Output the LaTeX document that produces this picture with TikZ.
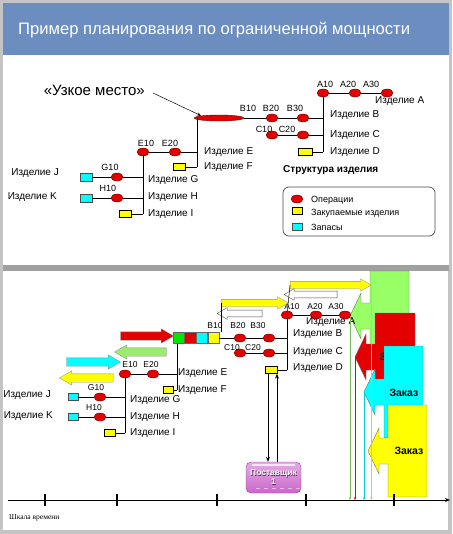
\documentclass[tikz,border=0pt]{standalone}
\usepackage{fontspec}
\setmainfont{Liberation Sans}
\newfontfamily\scalefont{Liberation Serif}
\usetikzlibrary{shapes.geometric,shapes.arrows,arrows.meta,positioning}

\definecolor{titleblue}{RGB}{108,141,191}
\definecolor{framegrey}{RGB}{196,196,196}
\definecolor{bandgrey}{RGB}{160,160,160}
\definecolor{opred}{RGB}{226,0,0}
\definecolor{opedge}{RGB}{110,0,0}
\definecolor{buyyellow}{RGB}{255,255,0}
\definecolor{stockcyan}{RGB}{0,255,255}
\definecolor{stripgreen}{RGB}{0,230,0}
\definecolor{ordergreen}{RGB}{153,255,102}
\definecolor{lightgreen}{RGB}{155,235,110}
\definecolor{supplier}{RGB}{204,102,204}

\tikzset{
	op/.style={ellipse, draw=opedge, fill=opred, minimum width=12pt, minimum height=8pt, inner sep=0pt},
	neck/.style={ellipse, draw=opedge, fill=opred, minimum width=50pt, minimum height=6pt, inner sep=0pt},
	buy/.style={draw=black, fill=buyyellow, minimum width=12pt, minimum height=7pt, inner sep=0pt},
	stock/.style={draw=black!70, fill=stockcyan, minimum width=12pt, minimum height=8pt, inner sep=0pt},
	sq/.style={draw=black!60, minimum width=11.25pt, minimum height=11pt, inner sep=0pt},
	oplbl/.style={font=\fontsize{9}{10}\selectfont, inner sep=0pt},
	smlbl/.style={font=\fontsize{8.5}{9}\selectfont, inner sep=0pt},
	partlbl/.style={font=\fontsize{10}{11}\selectfont, inner sep=0pt},
	leglbl/.style={font=\fontsize{9}{10}\selectfont, inner sep=0pt, anchor=west},
	link/.style={line width=0.9pt},
	blk/.style={single arrow, inner sep=0pt, inner ysep=4pt, single arrow head extend=3pt,
		single arrow tip angle=60, draw=black!45, line width=0.3pt},
	blkthin/.style={blk, inner ysep=3.5pt, single arrow head extend=2.5pt},
	blkwhite/.style={blk, inner ysep=3.2pt, single arrow head extend=2.5pt, fill=white, draw=black!70, line width=0.4pt},
	orderedge/.style={draw=black!55, line width=0.4pt},
	orderlbl/.style={font=\bfseries\fontsize{10.5}{11}\selectfont, inner sep=0pt},
	supplierbox/.style={rounded corners=5pt, draw=supplier!70!black, top color=supplier!55!white,
		bottom color=supplier, minimum width=55pt, minimum height=31pt, inner sep=0pt},
	tick/.style={line width=1.3pt},
	dropline/.style={line width=0.8pt, -{Stealth[length=3pt,width=2.5pt]}}
}

% left, right, top, bottom, fill, tip name
\newcommand{\orderbox}[6]{%
	\pgfmathsetmacro{\oc}{(#3+#4)/2}
	\filldraw[orderedge, fill=#5] (#2,#3) -- (#1,#3) -- (#1,\oc-13) -- (#1-9,\oc-13)
		-- (#1-9,\oc-23) -- (#1-20,\oc) coordinate (#6) -- (#1-9,\oc+23) -- (#1-9,\oc+13)
		-- (#1,\oc+13) -- (#1,#4) -- (#2,#4) -- cycle;
}

\begin{document}
\begin{tikzpicture}[x=1pt, y=-1pt]
	\useasboundingbox (0,0) rectangle (452,534);

	% Frame and panels
	\fill[framegrey] (0,0) rectangle (452,534);
	\fill[white] (3,55) rectangle (449,265);
	\fill[bandgrey] (3,265) rectangle (449,271);
	\fill[white] (3,271) rectangle (448,530);
	\fill[titleblue] (3,3) rectangle (449,55);
	\node[font=\fontsize{16.6}{20}\selectfont, text=white, anchor=west, inner sep=0pt] (title)
		at (18,30) {Пример планирования по ограниченной мощности};

	% ---------- Product structure ----------
	\node[neck] (tB10) at (219,118) {};
	\node[op] (tB20) at (272,118) {};
	\node[op] (tB30) at (303,118) {};
	\node[op] (tA10) at (323,93) {};
	\node[op] (tA20) at (355,93) {};
	\node[op] (tA30) at (387,93) {};
	\node[op] (tC10) at (272,135) {};
	\node[op] (tC20) at (303,135) {};
	\node[buy, minimum width=14pt] (tD) at (305,152) {};
	\coordinate (tAbus) at (323,152);

	\draw[link] (tB10) -- (tB20) -- (tB30) -- (tB30 -| tA10);
	\draw[link] (tA10) -- (tA20) -- (tA30);
	\draw[link] (tA10) -- (tAbus);
	\draw[link] (tC10) -- (tC20) -- (tC20 -| tA10);
	\draw[link] (tD) -- (tAbus);

	\node[op] (tE10) at (143,152) {};
	\node[op] (tE20) at (175,152) {};
	\node[buy] (tF) at (179,167) {};
	\coordinate (tEtop) at (197,118);
	\coordinate (tEbot) at (197,167);
	\draw[link] (tEtop) -- (tEbot);
	\draw[link] (tE10) -- (tE20) -- (tE20 -| tEtop);
	\draw[link] (tF) -- (tEbot);

	\node[op] (tG10) at (117,177) {};
	\node[stock] (tJ) at (86,177) {};
	\node[op] (tH10) at (117,198) {};
	\node[stock] (tK) at (86,198) {};
	\node[buy] (tI) at (125,214) {};
	\coordinate (tGbot) at (143,214);
	\draw[link] (tE10) -- (tGbot);
	\draw[link] (tJ) -- (tG10) -- (tG10 -| tE10);
	\draw[link] (tK) -- (tH10) -- (tH10 -| tE10);
	\draw[link] (tI) -- (tGbot);

	% Operation labels
	\node[oplbl] at (325,84) {A10};
	\node[oplbl] at (348,84) {A20};
	\node[oplbl] at (371,84) {A30};
	\node[oplbl] at (248,108) {B10};
	\node[oplbl] at (271,108) {B20};
	\node[oplbl] at (295,108) {B30};
	\node[oplbl] at (264,129) {C10};
	\node[oplbl] at (287,129) {C20};
	\node[oplbl] at (146,143) {E10};
	\node[oplbl] at (170,143) {E20};
	\node[oplbl] at (110,167) {G10};
	\node[oplbl] at (108,188) {H10};

	% Part labels
	\node[partlbl, anchor=west] at (375,101) {Изделие A};
	\node[partlbl, anchor=west] at (330,115) {Изделие B};
	\node[partlbl, anchor=west] at (330,135) {Изделие C};
	\node[partlbl, anchor=west] at (330,152) {Изделие D};
	\node[partlbl, anchor=west] at (204,152) {Изделие E};
	\node[partlbl, anchor=west] at (204,167) {Изделие F};
	\node[partlbl, anchor=west] at (148,180) {Изделие G};
	\node[partlbl, anchor=west] at (148,197) {Изделие H};
	\node[partlbl, anchor=west] at (148,214) {Изделие I};
	\node[partlbl, anchor=east] at (59,173) {Изделие J};
	\node[partlbl, anchor=east] at (57,197) {Изделие K};
	\node[font=\bfseries\fontsize{10}{11}\selectfont, inner sep=0pt, anchor=west] (struct)
		at (283,170) {Структура изделия};

	% Bottleneck
	\node[font=\fontsize{15}{17}\selectfont, inner sep=0pt, anchor=east] (neckText)
		at (145,90) {«Узкое место»};
	\draw[line width=0.5pt, -{Stealth[length=4pt,width=3pt]}] (neckText.east) ++(8,3) -- (tB10.north west);

	% Legend
	\draw[rounded corners=6pt, draw=black!70, line width=0.7pt] (283,187) rectangle (435,236);
	\node[op] (lgOp) at (297,199) {};
	\node[buy, minimum width=10pt] (lgBuy) at (297,211) {};
	\node[stock, minimum width=10pt, minimum height=7pt] (lgStock) at (297,227) {};
	\node[leglbl] at (311,200) {Операции};
	\node[leglbl] at (311,213) {Закупаемые изделия};
	\node[leglbl] at (311,227) {Запасы};

	% ---------- Planning view ----------
	% Orders
	\orderbox{370}{409}{271}{361}{ordergreen}{gTip}
	\orderbox{375}{415}{313}{401}{opred}{rTip}
	\node[orderlbl] at (394,357) {Заказ};
	\orderbox{384}{423}{346}{438}{stockcyan}{cTip}
	\node[orderlbl] at (404,393) {Заказ};
	\orderbox{388}{427}{405}{497}{buyyellow}{yTip}
	\node[orderlbl] at (409,451) {Заказ};

	% Bottleneck strip
	\node[sq, fill=stripgreen] (sq1) at (178.6,338) {};
	\node[sq, fill=opred, right=0pt of sq1] (sq2) {};
	\node[sq, fill=stockcyan, right=0pt of sq2] (sq3) {};
	\node[sq, fill=buyyellow, right=0pt of sq3] (sq4) {};

	\node[op] (bB20) at (240,338) {};
	\node[op] (bB30) at (269,338) {};
	\node[op] (bA10) at (287,315) {};
	\node[op] (bA20) at (316,315) {};
	\node[op] (bA30) at (345,315) {};
	\node[op] (bC10) at (240,353) {};
	\node[op] (bC20) at (269,353) {};
	\node[buy] (bD) at (271,370) {};
	\coordinate (bAbus) at (287,370);
	\draw[link] (sq4) -- (bB20) -- (bB30) -- (bB30 -| bA10);
	\draw[link] (bA10) -- (bA20) -- (bA30);
	\draw[link] (bA10) -- (bAbus);
	\draw[link] (bC10) -- (bC20) -- (bC20 -| bA10);
	\draw[link] (bD) -- (bAbus);

	\node[op] (bE10) at (125,374) {};
	\node[op] (bE20) at (153,374) {};
	\node[buy, minimum width=10pt] (bF) at (168,390) {};
	\coordinate (bEbot) at (177,390);
	\draw[link] (sq1.south -| bEbot) -- (bEbot);
	\draw[link] (bE10) -- (bE20) -- (bE20 -| bEbot);
	\draw[link] (bF) -- (bEbot);

	\node[op] (bG10) at (100,397) {};
	\node[stock, minimum width=10pt, minimum height=7pt] (bJ) at (73,397) {};
	\node[op] (bH10) at (100,417) {};
	\node[stock, minimum width=10pt, minimum height=7pt] (bK) at (73,417) {};
	\node[buy, minimum width=11pt] (bI) at (110,433) {};
	\coordinate (bGbot) at (125,433);
	\draw[link] (bE10) -- (bGbot);
	\draw[link] (bJ) -- (bG10) -- (bG10 -| bE10);
	\draw[link] (bK) -- (bH10) -- (bH10 -| bE10);
	\draw[link] (bI) -- (bGbot);

	\node[smlbl] at (215,326) {B10};
	\node[smlbl] at (238,326) {B20};
	\node[smlbl] at (258,326) {B30};
	\node[smlbl] at (292,307) {A10};
	\node[smlbl] at (315,307) {A20};
	\node[smlbl] at (336,307) {A30};
	\node[smlbl] at (232,348) {C10};
	\node[smlbl] at (253,348) {C20};
	\node[smlbl] at (130,365) {E10};
	\node[smlbl] at (151,365) {E20};
	\node[smlbl] at (96,388) {G10};
	\node[smlbl] at (94,408) {H10};

	\node[partlbl, anchor=west] at (306,322) {Изделие A};
	\node[partlbl, anchor=west] at (293,334) {Изделие B};
	\node[partlbl, anchor=west] at (293,352) {Изделие C};
	\node[partlbl, anchor=west] at (293,368) {Изделие D};
	\node[partlbl, anchor=west] at (178,373) {Изделие E};
	\node[partlbl, anchor=west] at (178,390) {Изделие F};
	\node[partlbl, anchor=west] at (130,400) {Изделие G};
	\node[partlbl, anchor=west] at (130,417) {Изделие H};
	\node[partlbl, anchor=west] at (130,433) {Изделие I};
	\node[partlbl, anchor=east] at (51,395) {Изделие J};
	\node[partlbl, anchor=east] at (53,416) {Изделие K};

	% Block arrows
	\node[blk, fill=opred, minimum height=53pt] (redR) at (143.5,336) {};
	\node[blk, fill=lightgreen, minimum height=52pt, shape border rotate=180] (greenL) at (144,352) {};
	\node[blk, fill=stockcyan, minimum height=54pt] (cyanR) at (90,362) {};
	\node[blk, fill=buyyellow, minimum height=54pt, shape border rotate=180] (yellowL) at (90,378) {};
	\node[blkthin, fill=buyyellow, minimum height=67pt] (yellowR1) at (251.5,303) {};
	\node[blkwhite, minimum height=45pt, shape border rotate=180] (whiteL1) at (242.5,313.5) {};
	\node[blkthin, fill=buyyellow, minimum height=81pt] (yellowR2) at (327.5,285) {};
	\node[blkwhite, minimum height=53pt, shape border rotate=180] (whiteL2) at (313.5,294.5) {};
	\draw[line width=0.5pt] (yellowR1.tail) -- (yellowR1.tail |- sq4.north);
	\draw[line width=0.5pt] (yellowR2.tail) -- (bA10);

	% Supplier
	\node[supplierbox] (sup) at (273.5,477.5) {};
	\foreach \x in {252,260,...,292} {
		\draw[supplier!45!white, line width=0.8pt] (\x,473) -- +(4,0);
		\draw[supplier!45!white, line width=0.8pt] (\x+4,488) -- +(4,0);
	}
	\draw[white!85!supplier, line width=1.5pt] (252,465) -- (295,465);
	\node[text=supplier!40!black, align=center, font=\bfseries\fontsize{8.5}{9}\selectfont]
		at ([shift={(0.6,0.6)}]sup.center) {Поставщик\\1};
	\node[text=white, align=center, font=\bfseries\fontsize{8.5}{9}\selectfont] (supText)
		at (sup.center) {Поставщик\\1};
	\draw[line width=1pt, -{Stealth[length=5pt,width=4pt]}] ([xshift=-3pt]bD.south) -- ([xshift=-3pt]bD.south |- sup.north);
	\draw[line width=1pt, -{Stealth[length=5pt,width=4pt]}] ([xshift=6pt]bD.south |- sup.north) -- ([xshift=6pt]bD.south);

	% Time scale
	\coordinate (t0) at (8,500);
	\coordinate (t1) at (450,500);
	\draw[dropline, draw=lightgreen!80!black] (gTip) -- (gTip |- t0);
	\draw[dropline, draw=opred] (rTip) -- (rTip |- t0);
	\draw[dropline, draw=stockcyan!80!black] (cTip) -- (cTip |- t0);
	\draw[dropline, draw=buyyellow!85!black] (yellowR2.tip) -- (yellowR2.tip |- t0);
	\draw[line width=1pt, -{Stealth[length=5pt,width=4pt]}] (t0) -- (t1);
	\foreach \x in {45,117,217,306,394}
		\draw[tick] (\x,494) -- (\x,506);
	\node[font=\scalefont\fontsize{7.5}{8}\selectfont, inner sep=0pt, anchor=west] (tscale)
		at (9,518) {Шкала времени};
\end{tikzpicture}
\end{document}
